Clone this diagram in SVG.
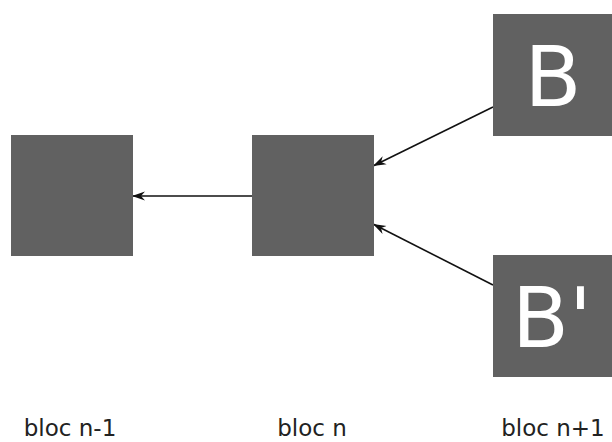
<svg xmlns="http://www.w3.org/2000/svg" width="612" height="442" viewBox="0 0 612 442">
<style>
.box{fill:#616161}
.big{font-family:"DejaVu Sans",sans-serif;font-size:83px;fill:#ffffff;text-anchor:middle}
.lbl{font-family:"DejaVu Sans",sans-serif;font-size:23px;fill:#222222;text-anchor:middle}
.conn{stroke:#111111;stroke-width:1.6;fill:none;marker-end:url(#ah)}
</style>
<defs>
<marker id="ah" markerUnits="userSpaceOnUse" markerWidth="14" markerHeight="10" viewBox="0 0 14 10" refX="13" refY="5" orient="auto">
<path d="M0,0.5 L13,5 L0,9.5 L4,5 z" fill="#111111"/>
</marker>
</defs>
<rect width="612" height="442" fill="#ffffff"/>
<g id="connectors">
<line class="conn" x1="252" y1="196" x2="132" y2="196"/>
<line class="conn" x1="493" y1="107" x2="373" y2="166"/>
<line class="conn" x1="493" y1="285" x2="373" y2="224"/>
</g>
<g id="node-n-1">
<rect class="box" x="11" y="135" width="122" height="121"/>
</g>
<g id="node-n">
<rect class="box" x="252" y="135" width="122" height="121"/>
</g>
<g id="node-B">
<rect class="box" x="493" y="14" width="119" height="122"/>
<text class="big" x="553" y="106">B</text>
</g>
<g id="node-B-prime">
<rect class="box" x="493" y="255" width="119" height="122"/>
<text class="big" x="552" y="347">B'</text>
</g>
<g id="labels">
<text class="lbl" x="70" y="436">bloc n-1</text>
<text class="lbl" x="312" y="436">bloc n</text>
<text class="lbl" x="553" y="436">bloc n+1</text>
</g>
</svg>
